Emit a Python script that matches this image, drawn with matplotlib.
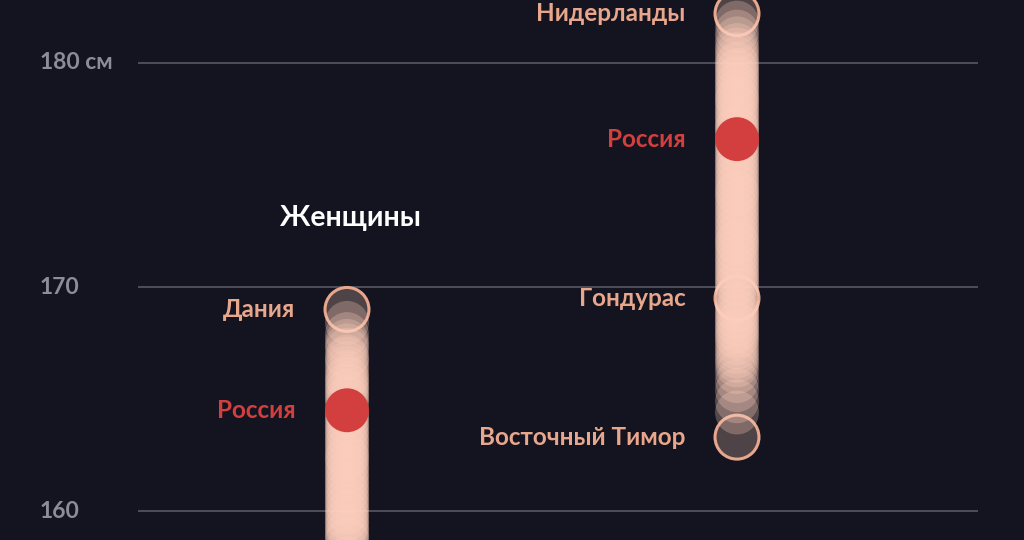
import matplotlib
matplotlib.use("Agg")
import matplotlib.pyplot as plt

# mean adult height by country, cm
women_heights = [
    169.0, 168.4, 167.9, 167.6, 167.4, 167.2, 166.9, 166.8, 166.6, 166.4,
    166.2, 166.0, 165.9, 165.7, 165.6, 165.4, 165.3, 165.1, 165.0, 164.8,
    164.5, 164.3, 164.2, 164.0, 163.9, 163.7, 163.6, 163.4, 163.3, 163.1,
    163.0, 162.8, 162.7, 162.5, 162.4, 162.3, 162.1, 162.0, 161.8, 161.7,
    161.5, 161.4, 161.2, 161.1, 160.9, 160.8, 160.6, 160.5, 160.3, 160.2,
    160.0, 159.9, 159.7, 159.6, 159.4, 159.3, 159.1, 159.0, 158.8, 158.7,
    158.3, 157.9, 157.4, 156.9, 156.3, 155.6, 154.8, 153.9, 152.6, 150.9,
]
men_heights = [
    182.2, 181.8, 181.4, 181.1, 180.8, 180.6, 180.4, 180.2, 180.0, 179.9,
    179.7, 179.6, 179.4, 179.3, 179.1, 179.0, 178.8, 178.7, 178.5, 178.4,
    178.3, 178.1, 178.0, 177.8, 177.7, 177.5, 177.4, 177.2, 177.1, 177.0,
    176.8, 176.6, 176.4, 176.3, 176.1, 176.0, 175.8, 175.7, 175.5, 175.4,
    175.2, 175.1, 174.9, 174.8, 174.6, 174.5, 174.3, 174.2, 174.1, 173.9,
    173.8, 173.6, 173.5, 173.3, 173.2, 173.0, 172.9, 172.7, 172.6, 172.4,
    172.3, 172.1, 172.0, 171.9, 171.7, 171.6, 171.4, 171.3, 171.1, 171.0,
    170.8, 170.7, 170.5, 170.4, 170.2, 170.1, 169.9, 169.7, 169.5, 169.3,
    169.2, 169.0, 168.9, 168.7, 168.6, 168.4, 168.3, 168.1, 168.0, 167.8,
    167.7, 167.5, 167.3, 167.1, 166.9, 166.7, 166.5, 166.2, 165.8, 165.4,
    164.9, 164.4, 163.3,
]

# labelled points: (height, label, is_russia)
women_labels = [(169.0, "Дания", False), (164.5, "Россия", True)]
men_labels = [
    (182.2, "Нидерланды", False),
    (176.6, "Россия", True),
    (169.5, "Гондурас", False),
    (163.3, "Восточный Тимор", False),
]

grid_values = [160, 170, 180]
grid_labels = ["160", "170", "180 см"]

BG = "#13141f"
PINK = "#ffd0be"
EDGE = "#e8a68c"
RED = "#d33f3f"
GRID = "#5b5e6c"
TICK = "#8b8e99"

plt.rcParams["font.family"] = ["Lato", "DejaVu Sans"]

fig = plt.figure(figsize=(10.24, 5.4), dpi=100, facecolor=BG)
ax = fig.add_axes([0, 0, 1, 1])
ax.set_facecolor(BG)
ax.set_xlim(-0.8897, 1.7359)
ax.set_ylim(158.71, 182.81)
ax.axis("off")

ax.hlines(grid_values, -0.536, 1.618, color=GRID, lw=1.1, zorder=1)
for v, lab in zip(grid_values, grid_labels):
    ax.text(-0.787, v, lab, color=TICK, fontsize=16.5, ha="left", va="center",
            fontweight="bold")

SIZE = 1000
for col, heights, labels in [(0, women_heights, women_labels),
                             (1, men_heights, men_labels)]:
    special = {h for h, _, _ in labels}
    # outlined extremes first, the crowd on top
    for h, lab, russia in labels:
        if russia:
            continue
        ax.scatter([col], [h], s=SIZE, facecolor=PINK, alpha=0.25,
                   edgecolor="none", zorder=2)
        ax.scatter([col], [h], s=SIZE, facecolor="none", edgecolor=EDGE,
                   lw=2.2, zorder=2)
    rest = [h for h in heights if h not in special]
    ax.scatter([col] * len(rest), rest, s=SIZE, facecolor=PINK, alpha=0.28,
               edgecolor="none", zorder=3)
    for h, lab, russia in labels:
        if russia:
            ax.scatter([col], [h], s=SIZE, facecolor=RED, edgecolor="none",
                       zorder=4)
        ax.annotate(lab, xy=(col, h), xytext=(-37, 0),
                    textcoords="offset points", ha="right", va="center",
                    color=RED if russia else EDGE, fontsize=17.5,
                    fontweight="bold")

ax.text(0.01, 173.1, "Женщины", color="white", fontsize=20.5,
        fontweight="bold", ha="center", va="center")

fig.savefig("out.png", dpi=100, facecolor=BG)
